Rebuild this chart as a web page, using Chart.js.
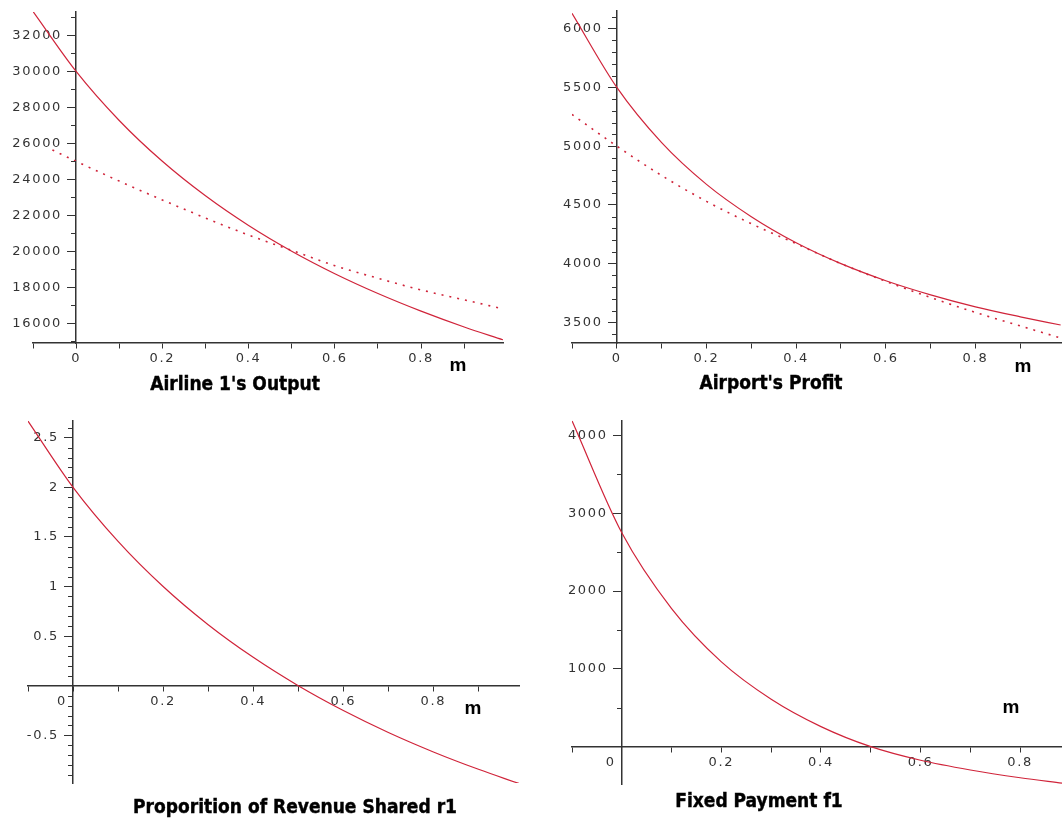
<!DOCTYPE html>
<html>
<head>
<meta charset="utf-8">
<script src="https://cdn.jsdelivr.net/npm/chart.js@4.4.1/dist/chart.umd.min.js"></script>
<style>
  body { margin: 0; background: #fff; }
  #wrap { position: relative; width: 1062px; height: 821px; overflow: hidden; background: #fff; }
  canvas { position: absolute; }
  .title {
    position: absolute; transform: translate(-50%, -50%); white-space: nowrap;
    font-family: 'DejaVu Sans Condensed', 'DejaVu Sans', sans-serif; font-stretch: condensed;
    font-weight: bold; font-size: 19px; color: #000; -webkit-text-stroke: 0.4px #000;
  }
  .mlab {
    position: absolute; transform: translate(-50%, -50%);
    font-family: 'Liberation Sans', Arial, sans-serif; font-weight: bold; font-size: 19px; color: #000;
  }
</style>
</head>
<body>
<div id="wrap">
  <canvas id="output" width="531" height="410" style="left:0;top:0"></canvas>
  <canvas id="profit" width="531" height="410" style="left:531px;top:0"></canvas>
  <canvas id="share" width="531" height="411" style="left:0;top:410px"></canvas>
  <canvas id="payment" width="531" height="411" style="left:531px;top:410px"></canvas>

  <div class="title" style="left:235px;top:383px">Airline 1's Output</div>
  <div class="title" style="left:771px;top:382px">Airport's Profit</div>
  <div class="title" style="left:295px;top:806px">Proporition of Revenue Shared r1</div>
  <div class="title" style="left:759px;top:800px">Fixed Payment f1</div>

  <div class="mlab" style="left:458px;top:365px">m</div>
  <div class="mlab" style="left:1023px;top:366px">m</div>
  <div class="mlab" style="left:473px;top:708px">m</div>
  <div class="mlab" style="left:1011px;top:707px">m</div>
</div>

<script>
// values
var mVals = [-0.1, 0, 0.1, 0.2, 0.3, 0.4, 0.5, 0.6, 0.7, 0.8, 0.9, 0.99];

// Airline 1's Output
var outputSolid = [33330, 30000, 27270, 25000, 23080, 21430, 20000, 18750, 17650, 16670, 15790, 15080];
var outputDotM = [-0.055, 0, 0.1, 0.2, 0.3, 0.4, 0.5, 0.6, 0.7, 0.8, 0.9, 0.99];
var outputDotted = [25630, 25000, 23900, 22850, 21850, 20900, 20050, 19200, 18500, 17850, 17300, 16800];

// Airport's Profit
var profitSolid = [6130, 5500, 5030, 4675, 4400, 4178, 4000, 3855, 3735, 3633, 3548, 3478];
var profitDotted = [5270, 5000, 4750, 4530, 4340, 4170, 4000, 3850, 3712, 3585, 3470, 3368];

// Proporition of Revenue Shared r1
var shareR1 = [2.667, 2.0, 1.455, 1.0, 0.615, 0.286, 0, -0.25, -0.471, -0.667, -0.842, -0.985];

// Fixed Payment f1
var payM = [-0.1, 0, 0.1, 0.2, 0.3, 0.4, 0.5, 0.6, 0.7, 0.8, 0.884];
var payF1 = [4190, 2750, 1775, 1090, 610, 258, 0, -175, -300, -400, -470];

// tick positions and labels
var xTicks = [-0.1, 0, 0.1, 0.2, 0.3, 0.4, 0.5, 0.6, 0.7, 0.8, 0.9];
var xTickLabels = ['', '0', '', '0.2', '', '0.4', '', '0.6', '', '0.8', ''];

var outputYTicks = [16000, 18000, 20000, 22000, 24000, 26000, 28000, 30000, 32000];
var outputYMinor = [15000, 17000, 19000, 21000, 23000, 25000, 27000, 29000, 31000, 33000];

var profitYTicks = [3500, 4000, 4500, 5000, 5500, 6000];

var shareYTicks = [-0.5, 0.5, 1, 1.5, 2, 2.5];
var shareYLabels = ['-0.5', '0.5', '1', '1.5', '2', '2.5'];

var payYTicks = [1000, 2000, 3000, 4000];
var payYMinor = [500, 1500, 2500, 3500];

var red = '#d0243a';
var axisColor = '#333';

// y labels sit right on the axis when it is placed at x=0, so pad them out
var yLabelGap = '\u2002 ';
// the "0" under a crossing y axis is pushed left of it
var zeroShift = '\u2002\u2002 ';

// minor ticks between the major ones, every `step`
function minorBetween(lo, hi, step, majors) {
  var out = [];
  for (var i = Math.round(lo / step); i * step <= hi + 1e-9; i++) {
    var v = +(i * step).toFixed(6);
    if (v !== 0 && majors.indexOf(v) < 0) out.push(v);
  }
  return out;
}

function pts(xs, ys) {
  return xs.map(function(x, i) { return {x: x, y: ys[i]}; });
}

//wide spaced tick digits like the original
var spacing_plug = {
  id: 'spacing',
  beforeLayout: function(chart) { chart.ctx.letterSpacing = '1.7px'; },
  beforeDraw: function(chart) { chart.ctx.letterSpacing = '1.7px'; }
};

//short unlabelled ticks on the y axis
var minor_plug = {
  id: 'minorTicks',
  afterDraw: function(chart, args, opts) {
    var ctx = chart.ctx,
        xs = chart.scales.x,
        ys = chart.scales.y,
        x0 = Math.round(xs.getPixelForValue(0));
    ctx.save();
    ctx.strokeStyle = axisColor;
    ctx.lineWidth = 1;
    ctx.beginPath();
    (opts.values || []).forEach(function(v) {
      if (v < ys.min || v > ys.max) return;
      var py = Math.round(ys.getPixelForValue(v)) + 0.5;
      ctx.moveTo(x0 - 5, py);
      ctx.lineTo(x0, py);
    });
    ctx.stroke();
    ctx.restore();
  }
};

function makeChart(id, cfg) {
  var datasets = cfg.series.map(function(s) {
    return {
      data: s.data,
      showLine: true,
      borderColor: red,
      borderWidth: s.dotted ? 1.6 : 1.2,
      borderDash: s.dotted ? [2, 6] : [],
      pointRadius: 0,
      cubicInterpolationMode: 'monotone',
      fill: false
    };
  });

  var tickFont = {family: 'DejaVu Sans', size: 13};

  return new Chart(document.getElementById(id), {
    type: 'scatter',
    plugins: [spacing_plug, minor_plug],
    data: {datasets: datasets},
    options: {
      responsive: false,
      animation: false,
      events: [],
      layout: {padding: cfg.padding},
      plugins: {
        legend: {display: false},
        tooltip: {enabled: false},
        minorTicks: {values: cfg.yMinor}
      },
      scales: {
        x: {
          type: 'linear',
          min: cfg.xMin,
          max: cfg.xMax,
          position: {y: cfg.xAxisAt},
          afterBuildTicks: function(axis) {
            axis.ticks = xTicks.filter(function(v) { return v >= cfg.xMin && v <= cfg.xMax; })
              .map(function(v) { return {value: v}; });
          },
          ticks: {
            autoSkip: false,
            maxRotation: 0,
            color: '#333',
            font: tickFont,
            padding: 3,
            callback: function(v) {
              var i = xTicks.indexOf(+v.toFixed(6));
              var lab = i < 0 ? '' : xTickLabels[i];
              if (lab === '0' && cfg.xAxisAt === 0) lab += zeroShift;
              return lab;
            }
          },
          grid: {drawOnChartArea: false, tickLength: 5, tickColor: axisColor},
          border: {color: axisColor, width: 1.5}
        },
        y: {
          type: 'linear',
          min: cfg.yMin,
          max: cfg.yMax,
          position: {x: 0},
          afterBuildTicks: function(axis) {
            axis.ticks = cfg.yTicks.map(function(v) { return {value: v}; });
          },
          ticks: {
            autoSkip: false,
            color: '#333',
            font: tickFont,
            callback: function(v) {
              var i = cfg.yTicks.indexOf(v);
              return (cfg.yLabels ? cfg.yLabels[i] : String(v)) + yLabelGap;
            }
          },
          grid: {drawOnChartArea: false, tickLength: 8, tickColor: axisColor},
          border: {color: axisColor, width: 1.5}
        }
      }
    }
  });
}

makeChart('output', {
  series: [{data: pts(mVals, outputSolid)}, {data: pts(outputDotM, outputDotted), dotted: true}],
  xMin: -0.1, xMax: 0.99, yMin: 14900, yMax: 33300, xAxisAt: 14900,
  yTicks: outputYTicks, yMinor: outputYMinor,
  padding: {left: 33, right: 28, top: 12, bottom: 67}
});

makeChart('profit', {
  series: [{data: pts(mVals, profitSolid)}, {data: pts(mVals, profitDotted), dotted: true}],
  xMin: -0.1, xMax: 0.993, yMin: 3325, yMax: 6150, xAxisAt: 3325,
  yTicks: profitYTicks, yMinor: minorBetween(3400, 6100, 100, profitYTicks),
  padding: {left: 41, right: 0, top: 11, bottom: 67}
});

makeChart('share', {
  series: [{data: pts(mVals, shareR1)}],
  xMin: -0.1, xMax: 0.99, yMin: -0.98, yMax: 2.67, xAxisAt: 0,
  yTicks: shareYTicks, yLabels: shareYLabels, yMinor: minorBetween(-0.9, 2.6, 0.1, shareYTicks),
  padding: {left: 28, right: 12, top: 10, bottom: 38}
});

makeChart('payment', {
  series: [{data: pts(payM, payF1)}],
  xMin: -0.1, xMax: 0.884, yMin: -480, yMax: 4190, xAxisAt: 0,
  yTicks: payYTicks, yMinor: payYMinor,
  padding: {left: 41, right: 0, top: 10, bottom: 37}
});
</script>
</body>
</html>
